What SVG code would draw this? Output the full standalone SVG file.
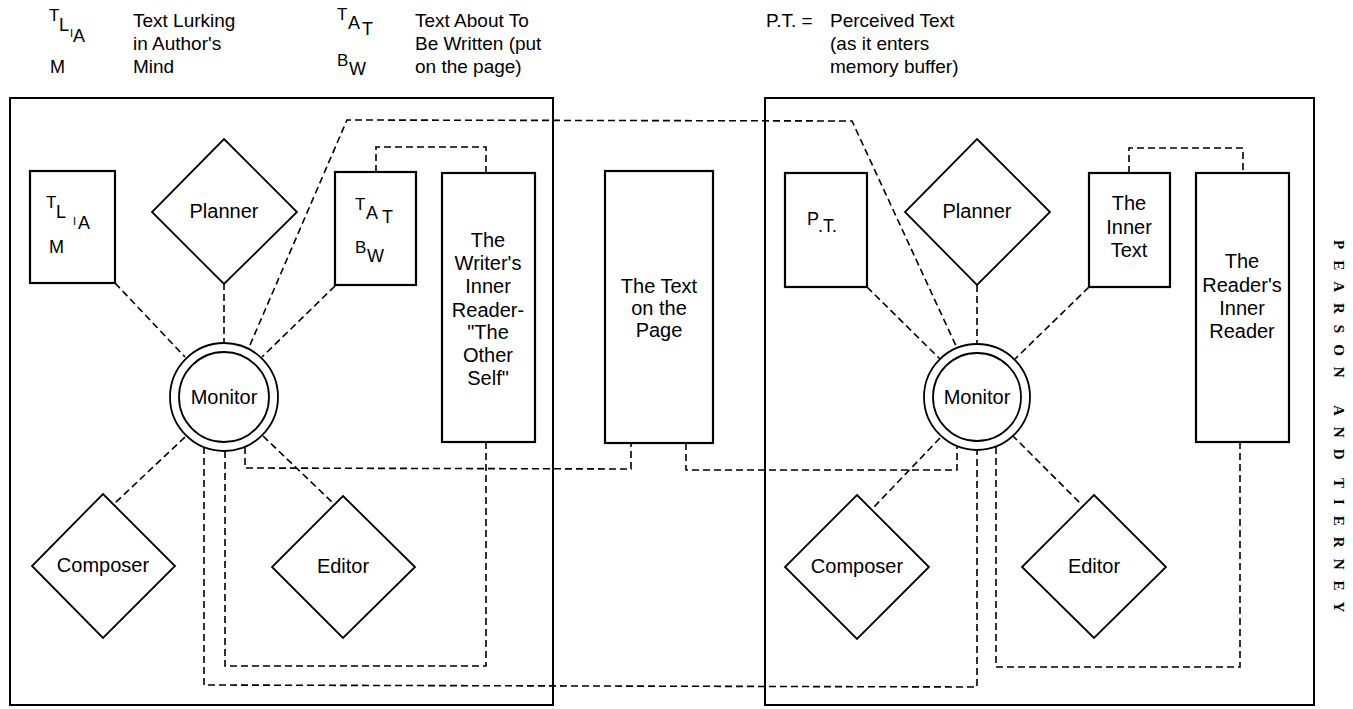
<svg xmlns="http://www.w3.org/2000/svg" width="1353" height="709" viewBox="0 0 1353 709">
<style>
.frame{fill:none;stroke:#000;stroke-width:2}
.box{fill:#fff;stroke:#000;stroke-width:2.2}
.dia{fill:#fff;stroke:#000;stroke-width:1.8}
.ring{fill:#fff;stroke:#000;stroke-width:1.8}
.dash{fill:none;stroke:#000;stroke-width:1.6;stroke-dasharray:7 4}
text{font-family:"Liberation Sans",Arial,sans-serif;fill:#000}
.lbl{font-size:20px;text-anchor:middle}
.leg{font-size:19px}
.s17{font-size:17px}
.s18{font-size:18px}
.s11{font-size:11px}
.side{font-family:"Liberation Serif","Times New Roman",serif;font-size:15px;font-weight:bold;letter-spacing:11px}
</style>
<rect width="1353" height="709" fill="#fff"/>

<g id="legend">
  <text class="s17" x="49" y="21">T</text>
  <text class="s18" x="59" y="31">L</text>
  <text class="s11" x="70" y="37">I</text>
  <text class="s18" x="73" y="42">A</text>
  <text class="s18" x="50" y="73">M</text>
  <text class="leg" x="133" y="27">Text Lurking</text>
  <text class="leg" x="133" y="50">in Author's</text>
  <text class="leg" x="133" y="73">Mind</text>
  <text class="s17" x="337" y="20">T</text>
  <text class="s18" x="348" y="29">A</text>
  <text class="s18" x="362" y="35">T</text>
  <text class="s17" x="337" y="66">B</text>
  <text class="s18" x="349" y="75">W</text>
  <text class="leg" x="415" y="27">Text About To</text>
  <text class="leg" x="415" y="50">Be Written (put</text>
  <text class="leg" x="415" y="73">on the page)</text>
  <text class="leg" x="766" y="27">P.T. =</text>
  <text class="leg" x="830" y="27">Perceived Text</text>
  <text class="leg" x="830" y="50">(as it enters</text>
  <text class="leg" x="830" y="73">memory buffer)</text>
</g>

<g id="panels">
  <rect class="frame" x="10" y="98" width="543" height="607"/>
  <rect class="frame" x="765" y="98" width="549" height="607"/>
</g>

<g id="connectors">
  <line class="dash" x1="115" y1="283" x2="185" y2="357"/>
  <line class="dash" x1="224" y1="283" x2="224" y2="343"/>
  <line class="dash" x1="335" y1="286" x2="262" y2="357"/>
  <polyline class="dash" points="250,345 347,120 852,121 957,348"/>
  <polyline class="dash" points="376,172 376,147 486,147 486,173"/>
  <line class="dash" x1="185" y1="437" x2="115" y2="503"/>
  <line class="dash" x1="263" y1="436" x2="333" y2="503"/>
  <polyline class="dash" points="204,447 204,685 977,687 977,451"/>
  <polyline class="dash" points="225,451 225,666 486,666 486,443"/>
  <polyline class="dash" points="245,447 245,468 631,469 631,443"/>
  <line class="dash" x1="867" y1="287" x2="940" y2="359"/>
  <line class="dash" x1="977" y1="285" x2="977" y2="343"/>
  <line class="dash" x1="1089" y1="287" x2="1015" y2="359"/>
  <polyline class="dash" points="1129,173 1129,148 1243,148 1243,173"/>
  <line class="dash" x1="940" y1="438" x2="873" y2="508"/>
  <line class="dash" x1="1012" y1="435" x2="1082" y2="505"/>
  <polyline class="dash" points="686,443 686,470 957,470 957,447"/>
  <polyline class="dash" points="996,447 996,667 1240,667 1240,443"/>
</g>

<g id="w-tlia">
  <rect class="box" x="30" y="171" width="85" height="112"/>
  <text class="s17" x="46" y="208">T</text>
  <text class="s18" x="56" y="218">L</text>
  <text class="s11" x="73" y="225">I</text>
  <text class="s18" x="78" y="229">A</text>
  <text class="s18" x="49" y="253">M</text>
</g>
<g id="w-planner">
  <polygon class="dia" points="224,139 297,212 224,284 152,212"/>
  <text class="lbl" x="224" y="218">Planner</text>
</g>
<g id="w-tatbw">
  <rect class="box" x="335" y="172" width="81" height="113"/>
  <text class="s17" x="355" y="210">T</text>
  <text class="s18" x="366" y="219">A</text>
  <text class="s18" x="382" y="223">T</text>
  <text class="s17" x="355" y="253">B</text>
  <text class="s18" x="367" y="262">W</text>
</g>
<g id="w-inner-reader">
  <rect class="box" x="442" y="173" width="93" height="269"/>
  <text class="lbl" x="488" y="247">The</text>
  <text class="lbl" x="488" y="270">Writer's</text>
  <text class="lbl" x="488" y="293">Inner</text>
  <text class="lbl" x="488" y="317">Reader-</text>
  <text class="lbl" x="488" y="339">"The</text>
  <text class="lbl" x="488" y="362">Other</text>
  <text class="lbl" x="488" y="385">Self"</text>
</g>
<g id="w-monitor">
  <circle class="ring" cx="224" cy="397" r="54"/>
  <circle class="ring" cx="224" cy="397" r="45"/>
  <text class="lbl" x="224" y="404">Monitor</text>
</g>
<g id="w-composer">
  <polygon class="dia" points="103,494 175,566 103,638 32,566"/>
  <text class="lbl" x="103" y="572">Composer</text>
</g>
<g id="w-editor">
  <polygon class="dia" points="343,496 415,567 343,638 272,567"/>
  <text class="lbl" x="343" y="573">Editor</text>
</g>

<g id="text-on-page">
  <rect class="box" x="605" y="171" width="108" height="272"/>
  <text class="lbl" x="659" y="293">The Text</text>
  <text class="lbl" x="659" y="315">on the</text>
  <text class="lbl" x="659" y="337">Page</text>
</g>

<g id="r-pt">
  <rect class="box" x="785" y="173" width="82" height="114"/>
  <text class="s18" x="807" y="225">P</text>
  <text class="s18" x="818" y="232">.T.</text>
</g>
<g id="r-planner">
  <polygon class="dia" points="977,139 1050,212 977,285 905,212"/>
  <text class="lbl" x="977" y="218">Planner</text>
</g>
<g id="r-inner-text">
  <rect class="box" x="1089" y="173" width="81" height="114"/>
  <text class="lbl" x="1129" y="210">The</text>
  <text class="lbl" x="1129" y="234">Inner</text>
  <text class="lbl" x="1129" y="257">Text</text>
</g>
<g id="r-inner-reader">
  <rect class="box" x="1196" y="173" width="93" height="269"/>
  <text class="lbl" x="1242" y="268">The</text>
  <text class="lbl" x="1242" y="292">Reader's</text>
  <text class="lbl" x="1242" y="315">Inner</text>
  <text class="lbl" x="1242" y="338">Reader</text>
</g>
<g id="r-monitor">
  <circle class="ring" cx="977" cy="397" r="53"/>
  <circle class="ring" cx="977" cy="397" r="44"/>
  <text class="lbl" x="977" y="404">Monitor</text>
</g>
<g id="r-composer">
  <polygon class="dia" points="857,495 929,567 857,639 785,567"/>
  <text class="lbl" x="857" y="573">Composer</text>
</g>
<g id="r-editor">
  <polygon class="dia" points="1094,495 1166,567 1094,638 1022,567"/>
  <text class="lbl" x="1094" y="573">Editor</text>
</g>

<g id="running-head">
  <text class="side" transform="translate(1334,240) rotate(90)">PEARSON</text>
  <text class="side" transform="translate(1334,405) rotate(90)">AND</text>
  <text class="side" transform="translate(1334,478) rotate(90)">TIERNEY</text>
</g>
</svg>
